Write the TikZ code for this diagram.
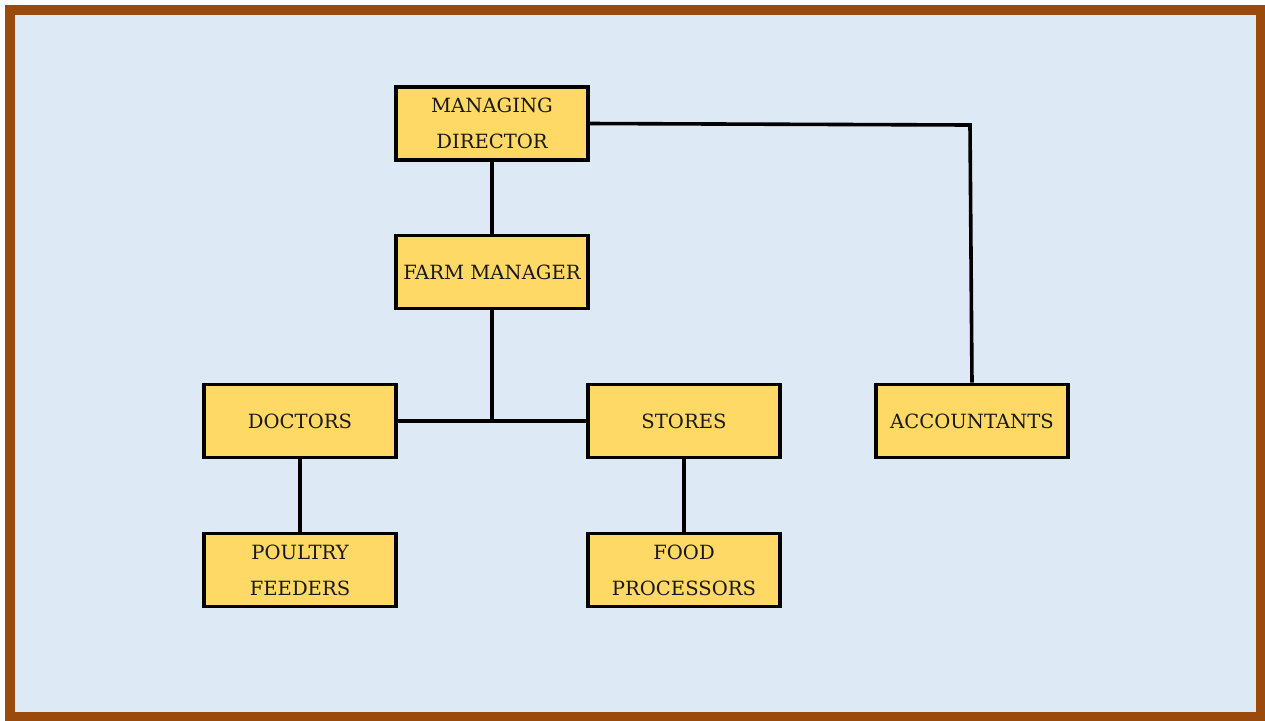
\documentclass[tikz,border=0pt]{standalone}
\usepackage{fontspec}
\setmainfont{DejaVu Serif}
\usepackage{tikz}
\usetikzlibrary{positioning, calc}
\definecolor{framebrown}{HTML}{9A4A0A}
\definecolor{paleblue}{HTML}{DDEAF5}
\definecolor{boxyellow}{HTML}{FFD966}
\tikzset{
  orgbox/.style={
    rectangle, line width=1.9pt,
    minimum width=96pt, minimum height=36.5pt,
    text centered, align=center,
    font=\fontsize{9.8}{18}\selectfont,
    draw=black, fill=boxyellow, text=black!90
  },
  orglink/.style={line width=1.8pt, draw=black},
}

\begin{document}
\begin{tikzpicture}[x=0.5pt, y=-0.5pt]
    % page frame
    \useasboundingbox (0,0) rectangle (1265,720);
    \fill[white] (0,0) rectangle (1265,720);
    \draw[framebrown, fill=paleblue, line width=5pt] (9.5,9.5) rectangle (1261,716.5);

    \node[orgbox] (md)   at (492,123.5) {MANAGING\\DIRECTOR};
    \node[orgbox] (fm)   at (492,272)   {FARM MANAGER};
    \node[orgbox] (doc)  at (300,421)   {DOCTORS};
    \node[orgbox] (st)   at (684,421)   {STORES};
    \node[orgbox] (acc)  at (972,421)   {ACCOUNTANTS};
    \node[orgbox] (pf)   at (300,570)   {POULTRY\\FEEDERS};
    \node[orgbox] (fp)   at (684,570)   {FOOD\\PROCESSORS};

    \coordinate (mdr) at (970,125);
    \coordinate (jn)  at (492,421.5);

    \draw[orglink] (md.east) -- (mdr) -- (acc.north);
    \draw[orglink] (fm.south) -- (jn);
    \draw[orglink] (doc.east) -- (st.west);
    \foreach \a/\b in {md/fm, doc/pf, st/fp}
      \draw[orglink] (\a.south)--(\b.north);

\end{tikzpicture}
\end{document}
